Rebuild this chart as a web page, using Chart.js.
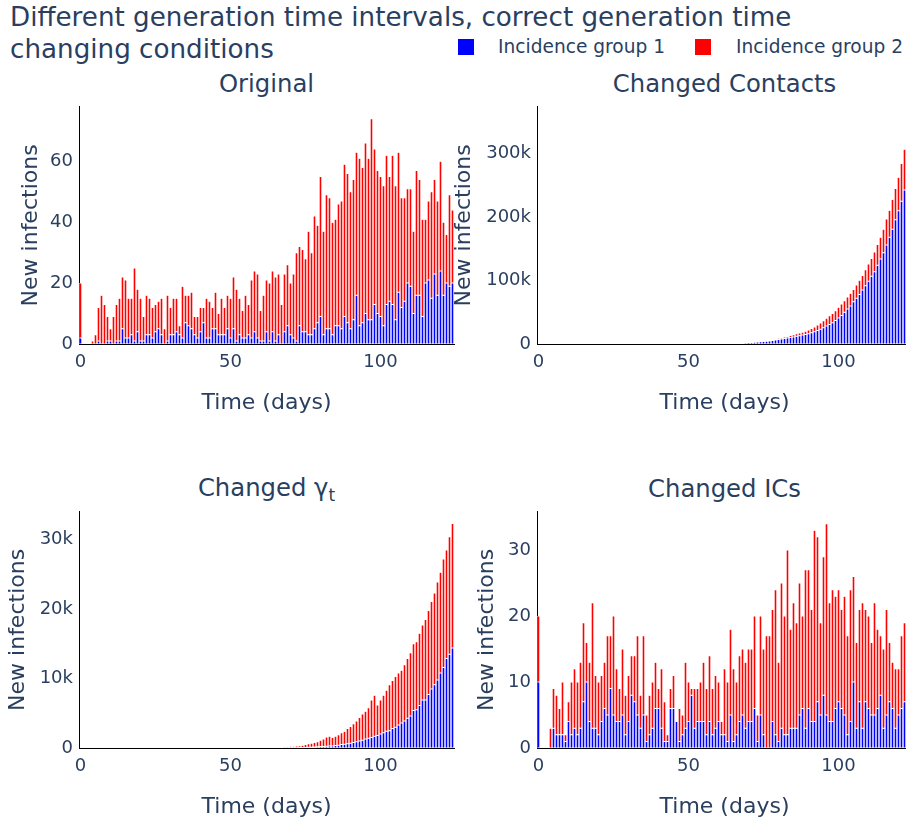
<!DOCTYPE html>
<html>
<head>
<meta charset="utf-8">
<title>Incidence by group</title>
<script src="https://cdn.jsdelivr.net/npm/chart.js@4.4.1/dist/chart.umd.min.js"></script>
<style>
  html, body { margin: 0; padding: 0; background: #fff; overflow: hidden; }
  #page { position: relative; width: 906px; height: 825px; overflow: hidden;
          font-family: "DejaVu Sans", Verdana, sans-serif; color: #2a3f5f; }
  .main-title { position: absolute; left: 10px; top: 1px; font-size: 26.2px; line-height: 32px; white-space: nowrap; }
  .sub-title { position: absolute; width: 400px; text-align: center; font-size: 24.3px; line-height: 30px; white-space: nowrap; }
  .sub-title sub { font-size: 17px; vertical-align: -5px; line-height: 0; }
  .swatch { position: absolute; top: 39px; width: 16px; height: 16px; }
  .leg-text { position: absolute; top: 37px; font-size: 18.6px; line-height: 20px; white-space: nowrap; }
  .panel { position: absolute; }
  .panel canvas { display: block; }
</style>
</head>
<body>
<div id="page">
  <div class="main-title">Different generation time intervals, correct generation time<br>changing conditions</div>

  <div class="swatch" style="left:458px;background:#0000ff"></div>
  <div class="leg-text" style="left:498px">Incidence group 1</div>
  <div class="swatch" style="left:695px;background:#ff0000"></div>
  <div class="leg-text" style="left:736px">Incidence group 2</div>

  <div class="sub-title" style="left:66.5px;top:69px">Original</div>
  <div class="sub-title" style="left:524.5px;top:69px">Changed Contacts</div>
  <div class="sub-title" style="left:66.5px;top:473px">Changed γ<sub>t</sub></div>
  <div class="sub-title" style="left:524.5px;top:474px">Changed ICs</div>

  <div class="panel" id="p1"><canvas id="c1"></canvas></div>
  <div class="panel" id="p2"><canvas id="c2"></canvas></div>
  <div class="panel" id="p3"><canvas id="c3"></canvas></div>
  <div class="panel" id="p4"><canvas id="c4"></canvas></div>
</div>

<script>
// Day index shared by every panel (0 .. 124)
const days = Array.from({ length: 125 }, (_, i) => i);
const xTickDays = [0, 50, 100];

// ---- Original ----
const originalGroup1 = [
  2,0,0,0,0,0,1,0,0,1, 1,0,1,1,5,2,2,3,1,4, 1,1,3,3,2,4,5,3,0,1,
  3,3,4,3,2,7,6,5,3,2, 4,7,2,2,5,5,3,3,3,5, 2,5,1,3,2,2,3,2,4,2,
  1,1,4,1,4,1,3,0,4,6, 3,2,1,6,4,4,3,3,5,7, 9,3,5,5,3,6,6,5,9,7,
  5,8,16,6,7,10,8,8,13,10, 9,6,13,14,13,8,17,12,14,20, 19,10,16,16,9,20,21,15,23,16,
  24,16,20,19,20
];
const originalGroup2 = [
  18,0,0,0,1,3,11,16,13,8, 4,9,12,14,17,19,13,12,24,14, 14,8,13,12,10,9,9,12,5,15,
  9,12,11,3,17,9,10,12,6,7, 8,5,13,12,7,12,7,12,9,11, 13,17,17,12,9,14,10,19,20,21,
  10,15,17,19,20,21,20,13,19,20, 17,21,29,26,27,24,34,27,37,32, 46,34,44,43,37,35,40,42,50,49,
  45,46,47,55,51,56,53,66,51,47, 46,46,49,41,49,44,46,36,34,31, 32,27,41,38,32,21,26,35,31,31,
  36,24,16,30,24
];
const originalTicks = [0, 20, 40, 60];

// ---- Changed Contacts ----
const contactsGroup1 = [
  0,0,0,0,0,0,0,0,0,0, 0,0,0,0,0,0,0,0,0,0, 0,0,0,0,0,0,0,0,0,0, 0,0,0,0,0,0,0,0,0,0,
  42,42,51,60,68,76,85,102,119,136,
  150,170,190,210,230,250,280,310,340,380,
  510,600,680,810,940,1110,1280,1450,1700,1960,
  2210,2550,2890,3300,3700,3900,4400,4900,5500,6200,
  7000,7800,8500,9300,10300,11200,12300,13100,14100,15000,
  16200,17700,19300,21300,23300,25600,28300,30600,33500,37000,
  41000,45000,50000,55000,60000,66500,72000,78000,85000,92000,
  99000,107000,114000,124000,134000,144000,156000,168500,181000,196000,
  210000,225000,243000,262000,282000
];
const contactsGroup2 = [
  0,0,0,0,0,0,0,0,0,0, 0,0,0,0,0,0,0,0,0,0, 0,0,0,0,0,0,0,0,0,0, 0,0,0,0,0,0,0,0,0,0,
  8,8,9,10,12,14,15,18,21,24,
  150,180,110,140,70,30,40,50,60,70,
  90,100,120,140,160,190,220,250,300,340,
  390,450,510,600,700,1100,1200,1400,1500,1800,
  2000,2200,2500,2700,3000,3400,3700,4100,4600,5300,
  5800,6800,7700,8700,9700,10900,12200,13900,14500,15600,
  17000,18000,18000,19000,20000,19500,21000,22500,23000,25000,
  27000,28000,31000,33000,34500,37000,41000,42500,47000,49000,
  53000,59500,64000,69000,74000
];
const contactsTicks = [0, 100000, 200000, 300000];

// ---- Changed gamma_t ----
const gammaGroup1 = [
  0,0,0,0,0,0,0,0,0,0, 0,0,0,0,0,0,0,0,0,0, 0,0,0,0,0,0,0,0,0,0, 0,0,0,0,0,0,0,0,0,0,
  0,0,0,0,0,0,0,0,0,0, 0,0,0,0,0,0,0,0,0,0,
  10,10,15,15,20,20,25,25,30,35,40,45,
  50,60,70,80,100,120,140,170,200,200,
  250,300,300,350,400,500,550,600,700,800,
  900,1000,1100,1300,1400,1500,1700,1800,2000,2200,
  2400,2500,2800,3000,3300,3600,3900,4300,4600,5400,
  5500,6100,6900,6900,7700,8500,9100,9800,10800,11600,
  12900,13500,14400
];
const gammaGroup2 = [
  0,0,0,0,0,0,0,0,0,0, 0,0,40,0,0,0,0,0,
  60,80,70,90,80,70,90,100,80,70,
  90,80,70,60,80,90,80,70,60,80,
  70,90,80,70,60,70,80,90,80,70,
  80,90,100,90,80,90,100,110,100,110,
  120,110,120,130,120,140,150,140,160,170,
  180,190,200,210,
  230,270,330,420,500,580,660,730,900,1100,
  1350,1400,1200,1350,1500,1700,1850,2200,2400,2700,
  3000,3400,3800,4000,4400,5400,5900,4400,4900,5400,
  5900,6600,6900,7300,7500,7600,8100,8600,9100,9600,
  9800,10400,10800,11600,12100,12600,13200,14100,14500,15600,
  15600,16900,17900
];
const gammaTicks = [0, 10000, 20000, 30000];

// ---- Changed ICs ----
const icsGroup1 = [
  10,0,0,0,0,3,2,2,2,1, 4,2,3,2,3,7,10,4,3,3, 2,4,6,5,9,5,4,4,5,2,
  4,8,7,5,3,5,1,2,3,6, 6,3,1,1,6,6,4,1,2,3, 4,8,3,4,4,4,2,4,2,3,
  4,2,2,1,5,1,2,4,5,3, 4,4,6,1,5,2,0,0,4,2, 1,3,2,2,3,3,3,5,6,3,
  6,4,4,7,5,8,5,4,4,6, 7,6,5,2,4,10,3,7,3,7, 6,5,5,6,8,3,5,7,6,3,
  5,6,7,5,4
];
const icsGroup2 = [
  10,0,0,0,3,6,6,4,8,1, 3,8,9,8,10,12,6,9,19,8, 8,7,7,12,8,15,8,5,10,6,
  7,6,7,12,5,12,4,6,7,7, 3,9,6,1,3,5,0,5,3,10, 6,1,6,5,6,9,7,10,7,8,
  6,2,10,9,13,11,8,10,10,10, 11,11,14,4,15,13,17,17,17,22, 12,22,18,28,15,19,16,20,14,24,
  21,17,29,25,14,21,29,18,20,17, 17,15,18,15,20,16,13,14,19,14, 14,11,17,12,9,12,16,9,7,9,
  7,11,12,10,10
];
const icsTicks = [0, 10, 20, 30];

// ---- Panel geometry (page pixels) ----
const panels = [
  { id: 'c1', box: 'p1', left: 0,   top: 90,  width: 465, height: 330, plot: { l: 79,  r: 454, t: 100, b: 344 },
    yTitlePad: 17.8, xTitlePad: 3.8, yMax: 77.9,  ticks: originalTicks, g1: originalGroup1, g2: originalGroup2 },
  { id: 'c2', box: 'p2', left: 440, top: 90,  width: 490, height: 330, plot: { l: 537, r: 912, t: 100, b: 344 },
    yTitlePad: 10.8, xTitlePad: 3.8, yMax: 374000, ticks: contactsTicks, g1: contactsGroup1, g2: contactsGroup2 },
  { id: 'c3', box: 'p3', left: 0,   top: 495, width: 465, height: 330, plot: { l: 79,  r: 454, t: 505, b: 748 },
    yTitlePad: 4.8, xTitlePad: 4.8, yMax: 34000, ticks: gammaTicks, g1: gammaGroup1, g2: gammaGroup2 },
  { id: 'c4', box: 'p4', left: 440, top: 495, width: 490, height: 330, plot: { l: 537, r: 912, t: 505, b: 748 },
    yTitlePad: 33.8, xTitlePad: 4.8, yMax: 35.8,  ticks: icsTicks, g1: icsGroup1, g2: icsGroup2 }
];

const FONT = '"DejaVu Sans", Verdana, sans-serif';
const TEXT = '#2a3f5f';

function fmtTick(v) {
  if (v === 0) return '0';
  return Math.abs(v) >= 1000 ? (v / 1000) + 'k' : String(v);
}

panels.forEach(p => {
  const box = document.getElementById(p.box);
  box.style.left = p.left + 'px';
  box.style.top = p.top + 'px';
  box.style.width = p.width + 'px';
  box.style.height = p.height + 'px';
  const canvas = document.getElementById(p.id);
  canvas.width = p.width;
  canvas.height = p.height;
  canvas.style.width = p.width + 'px';
  canvas.style.height = p.height + 'px';

  const yW = p.plot.l - p.left;
  const xH = p.top + p.height - p.plot.b;

  new Chart(canvas, {
    type: 'bar',
    data: {
      labels: days,
      datasets: [
        { label: 'Incidence group 1', data: p.g1, backgroundColor: '#0000ff',
          borderColor: '#ffffff', borderWidth: 0.5, borderSkipped: false,
          barPercentage: 0.9, categoryPercentage: 1.0 },
        { label: 'Incidence group 2', data: p.g2, backgroundColor: '#ff0000',
          borderColor: '#ffffff', borderWidth: 0.5, borderSkipped: false,
          barPercentage: 0.9, categoryPercentage: 1.0 }
      ]
    },
    options: {
      responsive: false,
      maintainAspectRatio: false,
      devicePixelRatio: 1,
      animation: false,
      events: [],
      layout: { padding: { left: 0, bottom: 0, top: p.plot.t - p.top, right: p.left + p.width - p.plot.r } },
      plugins: { legend: { display: false }, tooltip: { enabled: false } },
      scales: {
        x: {
          type: 'category',
          stacked: true,
          offset: true,
          grid: { display: false, drawTicks: false },
          border: { display: true, color: '#000000', width: 1 },
          ticks: {
            autoSkip: false, maxRotation: 0, padding: 8,
            font: { family: FONT, size: 18 }, color: TEXT,
            callback: (v, i) => xTickDays.includes(days[i]) ? String(days[i]) : null
          },
          title: { display: true, text: 'Time (days)', font: { family: FONT, size: 22 }, color: TEXT,
                   padding: { top: 0, bottom: p.xTitlePad } },
          afterFit: s => { s.height = xH; }
        },
        y: {
          stacked: true,
          min: 0,
          max: p.yMax,
          grid: { display: false, drawTicks: false },
          border: { display: true, color: '#000000', width: 1 },
          afterBuildTicks: s => { s.ticks = p.ticks.map(v => ({ value: v })); },
          ticks: {
            autoSkip: false, padding: 6,
            font: { family: FONT, size: 18 }, color: TEXT,
            callback: v => fmtTick(v)
          },
          title: { display: true, text: 'New infections', font: { family: FONT, size: 22 }, color: TEXT,
                   padding: { top: p.yTitlePad, bottom: 0 } },
          afterFit: s => { s.width = yW; }
        }
      }
    }
  });
});
</script>
</body>
</html>
